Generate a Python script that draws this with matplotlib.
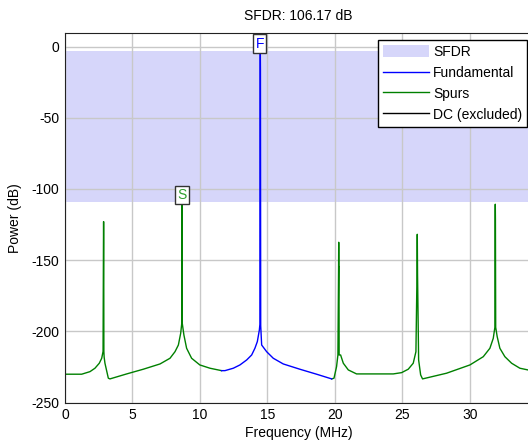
import matplotlib
matplotlib.use("Agg")
import matplotlib.pyplot as plt
from matplotlib.patches import Patch
from matplotlib.lines import Line2D

plt.rcParams['font.family'] = ['Liberation Sans', 'DejaVu Sans']
plt.rcParams['axes.unicode_minus'] = False

# values (MHz, dB)
fund_power = -2.80
spur_power = -108.97
sfdr_db = 106.17
fund_freq = 14.47
spur_freq = 8.67

spurs1_f = [0, 1.235, 1.85, 2.22, 2.54, 2.72, 2.82, 2.85, 2.86, 2.87, 2.88,
            2.90, 2.96, 3.21, 3.33, 4.57, 5.8, 7.04, 7.78, 8.15, 8.4, 8.57,
            8.65, 8.66, 8.67, 8.68, 8.69, 8.81, 9.01, 9.38, 9.99, 10.74,
            11.6]
spurs1_p = [-230.0, -230.0, -228.2, -225.8, -222.3, -218.8, -214.0, -137.4,
            -122.9, -137.4, -214.0, -218.0, -222.3, -232.8, -233.3, -229.8,
            -226.5, -222.8, -218.8, -214.2, -209.5, -201.3, -194.4, -125.0,
            -108.97, -125.0, -194.4, -202.5, -211.8, -218.8, -223.5, -225.8,
            -227.5]

fund_f = [11.6, 11.85, 12.47, 12.96, 13.46, 13.83, 14.07, 14.25, 14.40,
          14.44, 14.46, 14.47, 14.48, 14.50, 14.57, 14.94, 15.43, 16.17,
          17.4, 18.64, 19.76]
fund_p = [-227.5, -227.5, -225.8, -223.5, -220.0, -216.5, -211.8, -207.1,
          -199.0, -195.0, -16.0, -2.80, -16.0, -196.0, -209.5, -214.2,
          -218.8, -222.8, -226.5, -230.0, -233.3]

spurs2_f = [19.76, 19.93, 20.12, 20.22, 20.27, 20.28, 20.29, 20.30, 20.31,
            20.42, 20.62, 20.99, 21.6, 24.32, 24.94, 25.43, 25.8, 26.0,
            26.08, 26.10, 26.12, 26.2, 26.35, 26.49, 28.27, 30.0, 30.99,
            31.48, 31.73, 31.85, 31.87, 31.88, 31.89, 31.91, 32.02, 32.22,
            32.59, 33.09, 33.7, 34.3, 34.6]
spurs2_p = [-233.3, -232.8, -224.7, -216.5, -154.5, -137.4, -154.5, -154.5,
            -216.5, -216.5, -222.3, -227.0, -229.8, -229.8, -228.9, -226.5,
            -222.3, -214.2, -160.0, -131.8, -160.0, -220.0, -230.5, -233.3,
            -229.3, -223.5, -217.7, -211.8, -204.8, -197.1, -121.3, -110.7,
            -121.3, -197.1, -203.6, -211.8, -217.7, -222.3, -225.8, -227.0,
            -227.5]

xticks = [0, 5, 10, 15, 20, 25, 30]
yticks = [0, -50, -100, -150, -200, -250]

band_color = '#d6d6fa'
green = '#008000'
blue = '#0000ff'

fig = plt.figure(figsize=(5.28, 4.41), dpi=100)
ax = fig.add_axes([65 / 528, 1 - 402.7 / 441, 467 / 528, 370 / 441])

ax.axhspan(spur_power, fund_power, color=band_color, lw=0, zorder=0.3)
ax.plot(spurs1_f, spurs1_p, color=green, lw=1, zorder=2)
ax.plot(spurs2_f, spurs2_p, color=green, lw=1, zorder=2)
ax.plot(fund_f, fund_p, color=blue, lw=1, zorder=2)

ax.text(fund_freq - 0.05, fund_power, 'F', color=blue, fontsize=10,
        ha='center', va='bottom', zorder=5,
        bbox=dict(boxstyle='square,pad=0.15', fc='white', ec='#333333', lw=1))
ax.text(spur_freq, spur_power, 'S', color='#30a030', fontsize=10,
        ha='center', va='bottom', zorder=5,
        bbox=dict(boxstyle='square,pad=0.15', fc='white', ec='#333333', lw=1))

ax.set_xlim(0, 34.6)
ax.set_ylim(-250, 9.7)
ax.set_xticks(xticks)
ax.set_yticks(yticks)
ax.tick_params(length=0, labelsize=10, pad=4)
ax.set_axisbelow(True)
ax.grid(True, color='#c8c8c8', lw=1)
for s in ax.spines.values():
    s.set_color('#222222')

ax.set_title('SFDR: %.2f dB' % sfdr_db, fontsize=10, pad=9)
ax.set_xlabel('Frequency (MHz)', fontsize=10, labelpad=3)
ax.set_ylabel('Power (dB)', fontsize=10, labelpad=7)

handles = [Patch(facecolor=band_color, edgecolor='none'),
           Line2D([], [], color=blue, lw=1),
           Line2D([], [], color=green, lw=1),
           Line2D([], [], color='black', lw=1)]
labels = ['SFDR', 'Fundamental', 'Spurs', 'DC (excluded)']
leg = fig.legend(handles, labels, loc='upper right',
                 bbox_to_anchor=(527 / 528, 1 - 40 / 441), fontsize=10,
                 frameon=True, fancybox=False, edgecolor='black',
                 framealpha=1, borderaxespad=0, handlelength=3.3,
                 handleheight=0.9, labelspacing=0.5, handletextpad=0.3,
                 borderpad=0.35)
leg.get_frame().set_linewidth(1)

fig.savefig('out.png', dpi=100)
